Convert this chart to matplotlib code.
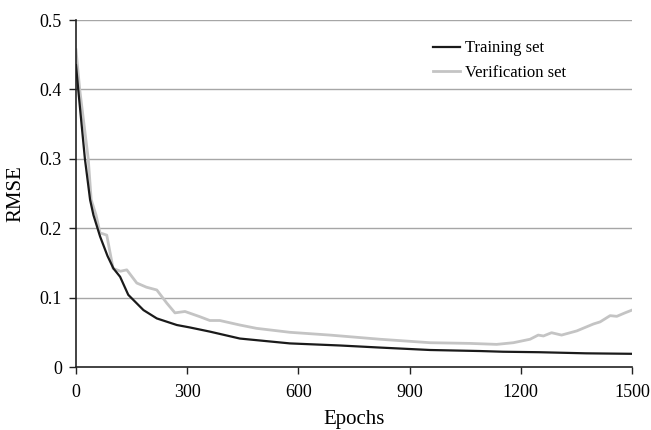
import matplotlib
matplotlib.use("Agg")
import matplotlib.pyplot as plt

plt.rcParams['font.family'] = ['Liberation Serif', 'DejaVu Serif']

train_epochs = [0, 6, 24, 38, 47, 65, 85, 101, 119, 141, 182, 218, 272, 307, 361,
                442, 577, 712, 820, 955, 1090, 1152, 1250, 1376, 1500]
train_rmse = [0.435, 0.40, 0.30, 0.241, 0.219, 0.188, 0.16, 0.142, 0.130, 0.104,
              0.082, 0.070, 0.0605, 0.057, 0.051, 0.041, 0.034, 0.031, 0.028,
              0.0245, 0.023, 0.022, 0.0213, 0.0197, 0.019]

verif_epochs = [0, 10, 33, 41, 54, 65, 72, 83, 100, 120, 137, 164, 190, 218, 245,
                267, 294, 334, 361, 388, 442, 487, 577, 685, 820, 955, 1063, 1135,
                1180, 1207, 1225, 1247, 1261, 1283, 1310, 1351, 1396, 1414, 1441,
                1459, 1481, 1500]
verif_rmse = [0.457, 0.40, 0.30, 0.241, 0.219, 0.193, 0.192, 0.19, 0.142, 0.138,
              0.14, 0.121, 0.115, 0.111, 0.092, 0.078, 0.080, 0.0725, 0.067, 0.067,
              0.0605, 0.0557, 0.050, 0.046, 0.040, 0.035, 0.034, 0.0326, 0.035,
              0.038, 0.040, 0.046, 0.0447, 0.0494, 0.046, 0.052, 0.062, 0.065,
              0.074, 0.073, 0.078, 0.082]

x_ticks = [0, 300, 600, 900, 1200, 1500]
y_ticks = [0, 0.1, 0.2, 0.3, 0.4, 0.5]
y_tick_labels = ['0', '0.1', '0.2', '0.3', '0.4', '0.5']

fig = plt.figure(figsize=(6.51, 4.30), dpi=100)
ax = fig.add_axes([76/651, 63/430, 556/651, 347/430])

for yv in y_ticks[1:]:
    ax.axhline(yv, color='#a6a6a6', lw=1.0, zorder=1)

ax.plot(verif_epochs, verif_rmse, color='#c4c4c4', lw=2.0, label='Verification set', zorder=2)
ax.plot(train_epochs, train_rmse, color='#1a1a1a', lw=1.6, label='Training set', zorder=3)

ax.set_xlim(0, 1500)
ax.set_ylim(0, 0.5)
ax.set_xticks(x_ticks)
ax.set_xticklabels([str(t) for t in x_ticks])
ax.set_yticks(y_ticks)
ax.set_yticklabels(y_tick_labels)
ax.tick_params(axis='both', labelsize=13, direction='out', length=5, width=1, color='#222222')
ax.tick_params(axis='x', pad=7)
ax.tick_params(axis='y', pad=5)

for s in ['top', 'right']:
    ax.spines[s].set_visible(False)
for s in ['left', 'bottom']:
    ax.spines[s].set_color('#222222')
    ax.spines[s].set_linewidth(1.2)

ax.set_xlabel('Epochs', fontsize=15, labelpad=7)
ax.set_ylabel('RMSE', fontsize=15, labelpad=10)

handles, labels = ax.get_legend_handles_labels()
leg = ax.legend(handles[::-1], labels[::-1], loc='upper left',
                bbox_to_anchor=((425 - 76) / 556, 1 - (32 - 20) / 347),
                frameon=False, fontsize=12, handlelength=1.6, handletextpad=0.3,
                labelspacing=0.53, borderpad=0)

fig.savefig('out.png', dpi=100)
